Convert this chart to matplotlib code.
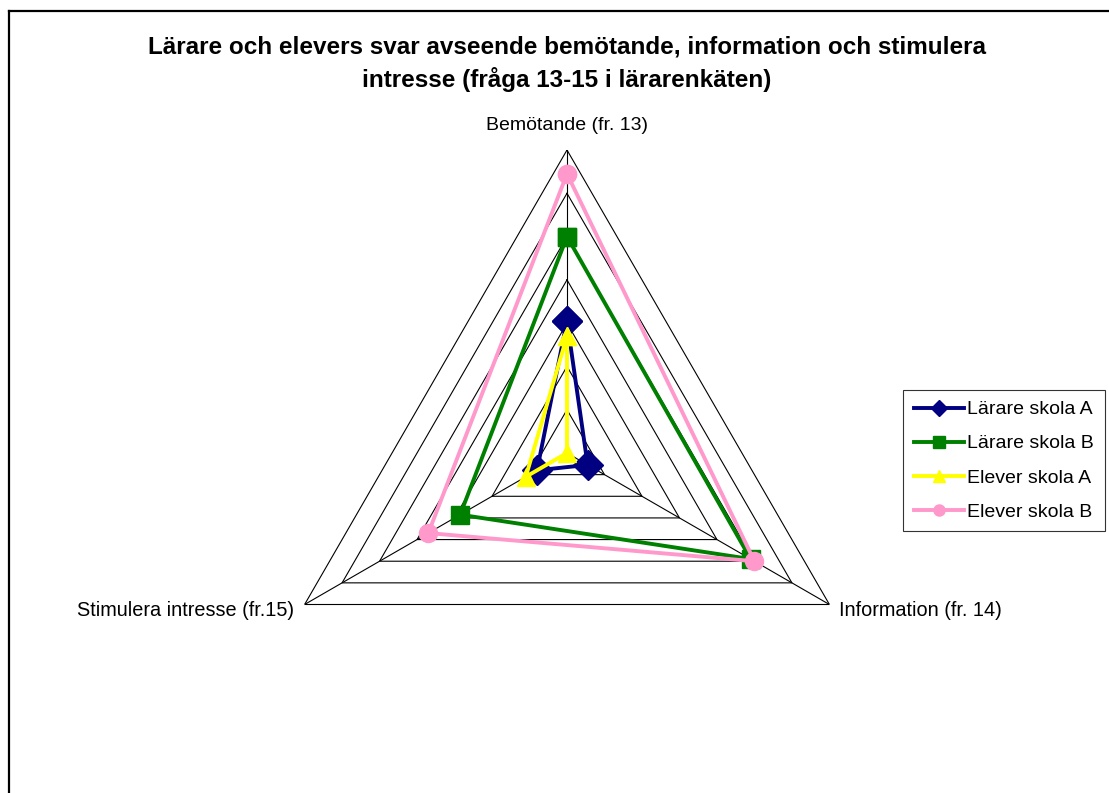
import matplotlib.pyplot as plt
import numpy as np
from matplotlib.lines import Line2D

plt.rcParams['font.family'] = ['Liberation Sans', 'DejaVu Sans']

# --- data ---
axis_labels = ['Bemötande (fr. 13)', 'Information (fr. 14)', 'Stimulera intresse (fr.15)']
series_names = ['Lärare skola A', 'Lärare skola B', 'Elever skola A', 'Elever skola B']
larare_a = [3.05, 0.55, 0.8]
larare_b = [5.0, 4.9, 2.85]
elever_a = [2.7, 0.0, 1.1]
elever_b = [6.45, 5.0, 3.7]
grid_levels = [1, 2, 3, 4, 5, 6, 7]

series_vals = [larare_a, larare_b, elever_a, elever_b]
colors = ['#000080', '#008000', '#FFFF00', '#FF99CC']
markers = ['D', 's', '^', 'o']
msizes = [15, 12.5, 13, 13]

# --- figure ---
W, H = 1109, 793
fig = plt.figure(figsize=(W / 100, H / 100), dpi=100)

# chart-area border (left and top edges visible)
fig.add_artist(Line2D([8.5 / W, 8.5 / W], [0, 1 - 11 / H], color='black', lw=1.6,
                      transform=fig.transFigure))
fig.add_artist(Line2D([8.5 / W, 1], [1 - 11 / H, 1 - 11 / H], color='black', lw=1.6,
                      transform=fig.transFigure))

cx, cy, R = 567, 453, 303
ax = fig.add_axes([(cx - R) / W, (H - cy - R) / H, 2 * R / W, 2 * R / H], projection='polar')
ax.set_theta_offset(np.pi / 2)
ax.set_theta_direction(-1)
ax.set_ylim(0, 7)
ax.grid(False)
ax.set_xticks([])
ax.set_yticks([])
ax.spines['polar'].set_visible(False)
ax.patch.set_alpha(0)

theta = np.deg2rad([0, 120, 240])
theta_closed = np.append(theta, theta[0])

# triangular grid rings and spokes
for lev in grid_levels:
    ax.plot(theta_closed, [lev] * 4, color='black', lw=0.8, zorder=1)
for t in theta:
    ax.plot([t, t], [0, 7], color='black', lw=0.8, zorder=1)

# series
for name, vals, c, m, ms in zip(series_names, series_vals, colors, markers, msizes):
    v = np.append(vals, vals[0])
    ax.plot(theta_closed, v, color=c, lw=2.8, marker=m, markersize=ms,
            markeredgecolor=c, label=name, zorder=3, clip_on=False)

# category labels
fig.text(567 / W, 1 - 125 / H, axis_labels[0], ha='center', va='center', fontsize=14)
fig.text(839 / W, 1 - 610 / H, axis_labels[1], ha='left', va='center', fontsize=14.3)
fig.text(294 / W, 1 - 610 / H, axis_labels[2], ha='right', va='center', fontsize=14.3)

# title
fig.text(567 / W, 1 - 47 / H, 'Lärare och elevers svar avseende bemötande, information och stimulera',
         ha='center', va='center', fontsize=17.5, fontweight='bold')
fig.text(567 / W, 1 - 80 / H, 'intresse (fråga 13-15 i lärarenkäten)',
         ha='center', va='center', fontsize=17.5, fontweight='bold')

handles, labels = ax.get_legend_handles_labels()
small = [Line2D([], [], color=h.get_color(), lw=2.8, marker=h.get_marker(),
                markersize=8, markeredgecolor=h.get_color()) for h in handles]
leg = fig.legend(small, labels, loc='upper left', bbox_to_anchor=(903 / W, 1 - 390 / H),
                 fontsize=14, frameon=True, fancybox=False, edgecolor='black',
                 handlelength=2.6, handletextpad=0.15, labelspacing=0.85,
                 borderpad=0.55, borderaxespad=0)
leg.get_frame().set_linewidth(0.8)

fig.savefig('out.png', dpi=100)
